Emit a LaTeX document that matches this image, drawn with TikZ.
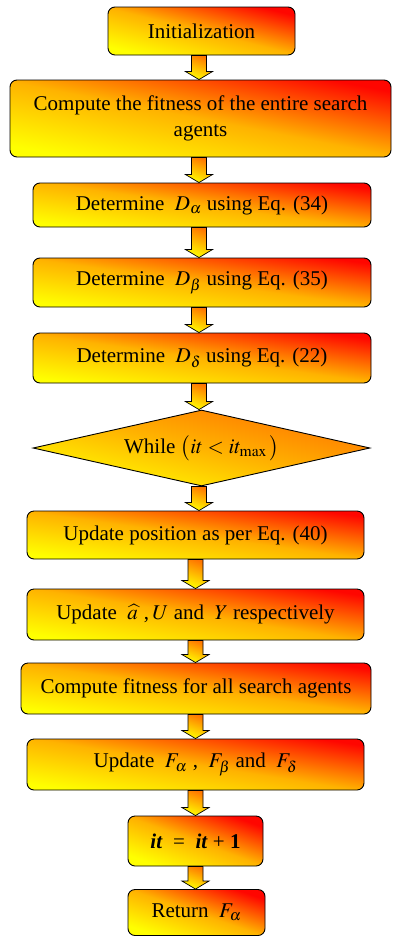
\documentclass[tikz,border=0pt]{standalone}
\usepackage{mathptmx}
\usepackage{fontspec}
\setmainfont{Liberation Serif}
\usetikzlibrary{shapes.geometric,calc}
\tikzset{
  stepbox/.style={draw, line width=0.9pt, rounded corners=7pt, align=center,
    inner sep=2pt, font=\fontsize{21}{26}\selectfont,
    top color=red!95!orange, bottom color=yellow, middle color=orange!60!yellow,
    shading angle=-8},
  decision/.style={draw, line width=0.9pt, shape=diamond, aspect=4.4, inner sep=1pt,
    font=\fontsize{21}{26}\selectfont,
    top color=orange!90!red, bottom color=yellow, middle color=orange!60!yellow,
    shading angle=-13},
  arr/.style={draw, line width=0.7pt, top color=orange!90!red, bottom color=yellow,
    shading angle=-20}
}
\newcommand{\barrow}[3]{%
  \draw[arr] let \p1=(#1.south), \p2=(#2.north) in
   (#3pt-7.5pt,\y1) -- (#3pt+7.5pt,\y1) -- (#3pt+7.5pt,\y2+8pt) -- (#3pt+13.5pt,\y2+8pt)
   -- (#3pt,\y2) -- (#3pt-13.5pt,\y2+8pt) -- (#3pt-7.5pt,\y2+8pt) -- cycle;}
\begin{document}
\begin{tikzpicture}[x=1pt,y=-1pt]
\useasboundingbox (0,0) rectangle (393,937);
\node[stepbox, minimum width=187pt, minimum height=48pt, shading angle=-14] (init) at (201.5,31) {Initialization};
\node[stepbox, minimum width=381pt, minimum height=77pt, shading angle=-11] (fit) at (200.5,118.5)
  {Compute the fitness of the entire search\\agents};
\node[stepbox, minimum width=338pt, minimum height=44pt] (da) at (202,205)
  {Determine \ $D_\alpha$ using Eq. (34)};
\node[stepbox, minimum width=338pt, minimum height=49pt] (db) at (202,282.5)
  {Determine \ $D_\beta$ using Eq. (35)};
\node[stepbox, minimum width=338pt, minimum height=50pt] (dd) at (202,358)
  {Determine \ $D_\delta$ using Eq. (22)};
\node[decision, minimum width=337pt, minimum height=76pt] (wh) at (201.5,448)
  {While $\bigl(it < it_{\mathrm{max}}\,\bigr)$};
\node[stepbox, minimum width=337pt, minimum height=48pt] (upd) at (195.5,535)
  {Update position as per Eq. (40)};
\node[stepbox, minimum width=337pt, minimum height=51pt, shading angle=-9] (uau) at (195.5,614.5)
  {Update \ $\widehat{a}$\;,\,$U$ and \ $Y$ respectively};
\node[stepbox, minimum width=350pt, minimum height=51pt, shading angle=-8] (cf) at (196,688.5)
  {Compute fitness for all search agents};
\node[stepbox, minimum width=337pt, minimum height=51pt, shading angle=-9] (uf) at (195.5,764.5)
  {Update \ $F_\alpha$\;, \ $F_\beta$ and \ $F_\delta$};
\node[stepbox, minimum width=135pt, minimum height=50pt, shading angle=-20] (inc) at (195.5,841)
  {\textbf{\textit{it}}\ \ =\ \ \textbf{\textit{it}}\ + \textbf{1}};
\node[stepbox, minimum width=137pt, minimum height=46pt, shading angle=-19] (ret) at (196.5,912.5)
  {Return \ $F_\alpha$};
\barrow{init}{fit}{199}
\barrow{fit}{da}{199}
\barrow{da}{db}{199}
\barrow{db}{dd}{199}
\barrow{dd}{wh}{199}
\barrow{wh}{upd}{199}
\barrow{upd}{uau}{195.5}
\barrow{uau}{cf}{195.5}
\barrow{cf}{uf}{195.5}
\barrow{uf}{inc}{195.5}
\barrow{inc}{ret}{195.5}
\end{tikzpicture}
\end{document}
